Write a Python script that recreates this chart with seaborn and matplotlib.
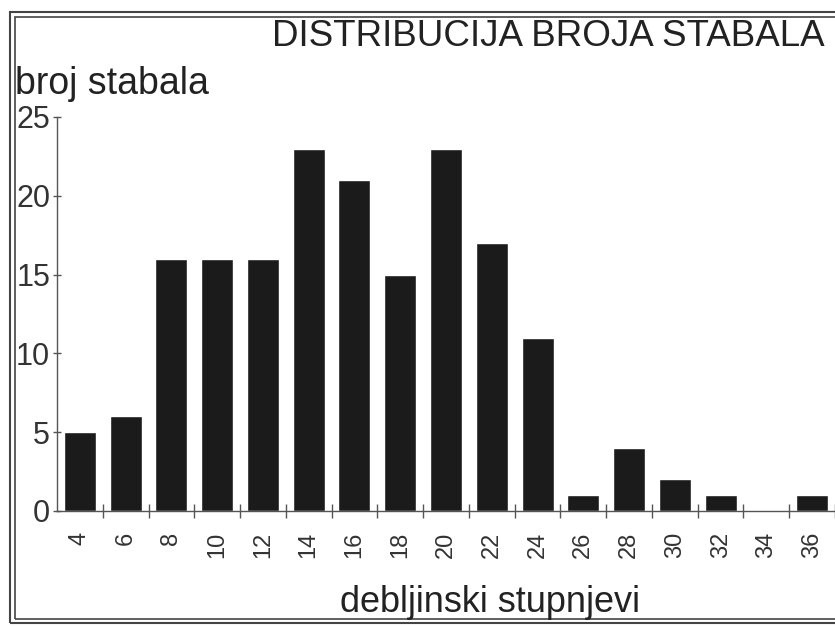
import matplotlib
matplotlib.use("Agg")
import matplotlib.pyplot as plt
import seaborn as sns
import pandas as pd
from matplotlib.patches import Rectangle
from matplotlib.ticker import FixedLocator

categories = ["4", "6", "8", "10", "12", "14", "16", "18", "20", "22", "24", "26", "28", "30", "32", "34", "36"]
values = [5, 6, 16, 16, 16, 23, 21, 15, 23, 17, 11, 1, 4, 2, 1, 0, 1]
y_ticks = [0, 5, 10, 15, 20, 25]

sns.set_theme(style="white")
plt.rcParams['font.family'] = ['Liberation Sans', 'DejaVu Sans']

df = pd.DataFrame({"deb": categories, "broj": values})

fig = plt.figure(figsize=(8.35, 6.27), dpi=100)
ax = fig.add_axes([57/835, 1 - 511/627, 1 - 57/835, (511 - 117)/627])

sns.barplot(data=df, x="deb", y="broj", color="#1b1b1b", saturation=1, width=0.7, ax=ax, order=categories)

ax.set_xlim(-0.5, len(categories) - 0.5)
ax.set_ylim(0, 25)
ax.set_yticks(y_ticks)
ax.set_yticklabels([str(t) for t in y_ticks], fontsize=22, color="#333333")
ax.set_xticks(range(len(categories)))
ax.set_xticklabels(categories, rotation=90, fontsize=17, color="#333333")
ax.xaxis.set_minor_locator(FixedLocator([i + 0.5 for i in range(len(categories))]))
ax.tick_params(axis="x", which="major", length=0, pad=15)
ax.tick_params(axis="x", which="minor", length=10, width=1, direction="inout", color="#555555", bottom=True)
ax.tick_params(axis="y", which="major", length=6, width=1, direction="inout", color="#555555", pad=2, left=True)

for s in ["top", "right"]:
    ax.spines[s].set_visible(False)
for s in ["left", "bottom"]:
    ax.spines[s].set_color("#555555")
    ax.spines[s].set_linewidth(1)

ax.set_xlabel("")
ax.set_ylabel("")

fig.text(0.988, 1 - 36/627, "DISTRIBUCIJA BROJA STABALA", ha="right", va="center", fontsize=26.5, color="#222222")
fig.text(0.018, 1 - 84/627, "broj stabala", ha="left", va="center", fontsize=27, color="#222222")
fig.text(0.587, 1 - 603/627, "debljinski stupnjevi", ha="center", va="center", fontsize=26, color="#222222")

# double frame
fig.patches.append(Rectangle((10/835, 1 - 623/627), 2, (623 - 12)/627, transform=fig.transFigure,
                             fill=False, edgecolor="#444444", linewidth=1.5))
fig.patches.append(Rectangle((14.5/835, 1 - 619/627), 2, (619 - 16.5)/627, transform=fig.transFigure,
                             fill=False, edgecolor="#444444", linewidth=1.2))

fig.savefig("out.png", dpi=100)
